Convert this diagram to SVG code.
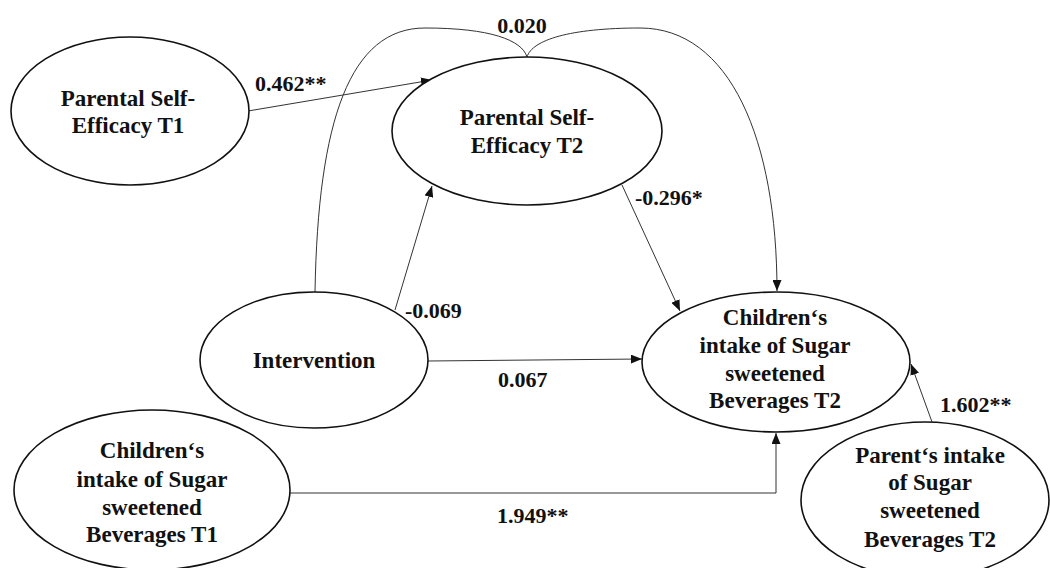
<svg xmlns="http://www.w3.org/2000/svg" width="1050" height="568" viewBox="0 0 1050 568">
<style>
.node ellipse{fill:#fff;stroke:#111;stroke-width:1.6}
.node text{font-family:'Liberation Serif','DejaVu Serif',serif;font-weight:bold;font-size:23px;fill:#111;text-anchor:middle}
.lbl{font-family:'Liberation Serif','DejaVu Serif',serif;font-weight:bold;font-size:22px;fill:#111}
.conn path{fill:none;stroke:#333;stroke-width:1}
</style>
<defs>
<marker id="ah" markerUnits="userSpaceOnUse" markerWidth="11" markerHeight="9" refX="11" refY="4.5" orient="auto">
<path d="M0,0 L11,4.5 L0,9 z" fill="#111"/>
</marker>
</defs>
<rect width="1050" height="568" fill="#fff"/>
<g class="conn">
<path d="M248,111 L432,80" marker-end="url(#ah)"/>
<path d="M395,310 L432,186" marker-end="url(#ah)"/>
<path d="M622,185 L680,311" marker-end="url(#ah)"/>
<path d="M428,361 L642,359" marker-end="url(#ah)"/>
<path d="M315,292 C318,120 350,28 425,28 C490,28 522,40 527,57 C532,40 570,28 640,28 C730,28 777,140 777,291" marker-end="url(#ah)"/>
<path d="M290,493 L776,493 L776,433" marker-end="url(#ah)"/>
<path d="M932,422 L911,364" marker-end="url(#ah)"/>
</g>
<g id="pse_t1" class="node">
<ellipse cx="130" cy="111" rx="119" ry="74"/>
<text x="128" y="106">Parental Self-</text>
<text x="128" y="133">Efficacy T1</text>
</g>
<g id="pse_t2" class="node">
<ellipse cx="527" cy="131" rx="135" ry="74"/>
<text x="527" y="125">Parental Self-</text>
<text x="527" y="153">Efficacy T2</text>
</g>
<g id="intervention" class="node">
<ellipse cx="314" cy="360" rx="114" ry="68"/>
<text x="314" y="368">Intervention</text>
</g>
<g id="ssb_child_t2" class="node">
<ellipse cx="776" cy="362" rx="134" ry="70"/>
<text x="775" y="325">Children‘s</text>
<text x="775" y="353">intake of Sugar</text>
<text x="775" y="381">sweetened</text>
<text x="775" y="408">Beverages T2</text>
</g>
<g id="ssb_child_t1" class="node">
<ellipse cx="152" cy="490" rx="138" ry="80"/>
<text x="152" y="458">Children‘s</text>
<text x="152" y="487">intake of Sugar</text>
<text x="152" y="515">sweetened</text>
<text x="152" y="542">Beverages T1</text>
</g>
<g id="ssb_parent_t2" class="node">
<ellipse cx="925" cy="500" rx="124" ry="78"/>
<text x="930" y="463">Parent‘s intake</text>
<text x="930" y="490">of Sugar</text>
<text x="930" y="518">sweetened</text>
<text x="930" y="547">Beverages T2</text>
</g>
<g id="labels">
<text class="lbl" x="522" y="33" text-anchor="middle">0.020</text>
<text class="lbl" x="255" y="91">0.462**</text>
<text class="lbl" x="635" y="205">-0.296*</text>
<text class="lbl" x="405" y="318">-0.069</text>
<text class="lbl" x="498" y="387">0.067</text>
<text class="lbl" x="497" y="523">1.949**</text>
<text class="lbl" x="940" y="412">1.602**</text>
</g>
</svg>
